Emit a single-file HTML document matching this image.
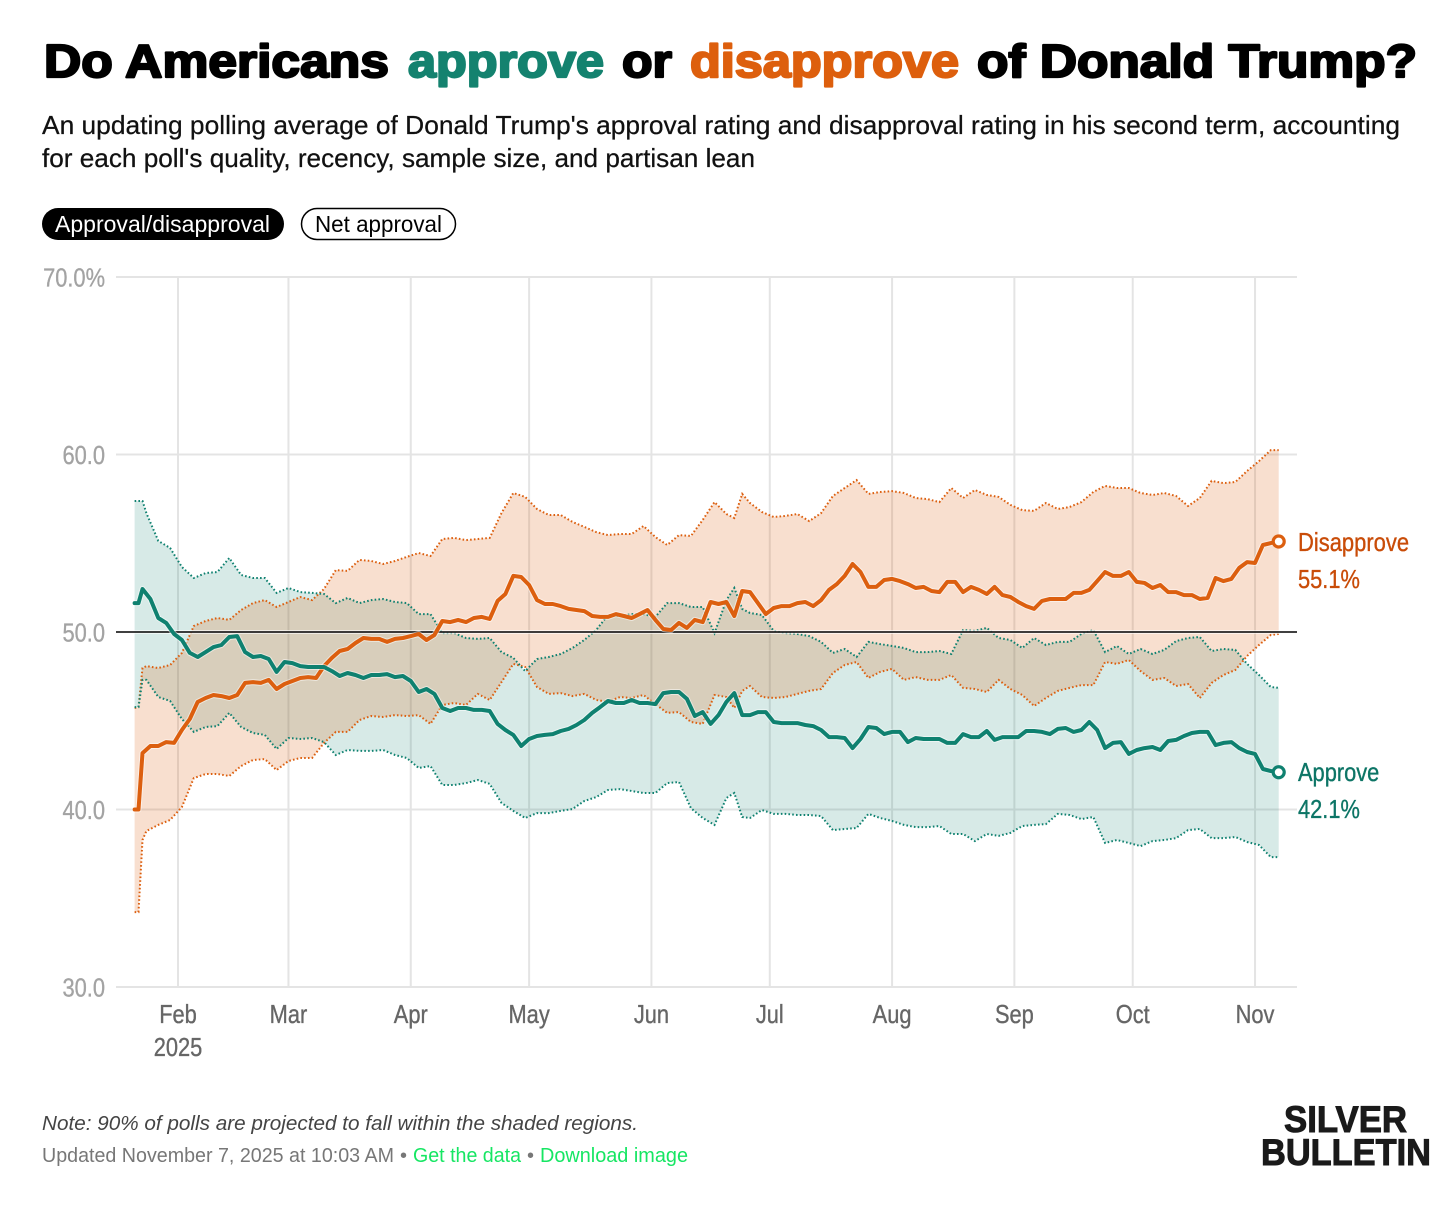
<!DOCTYPE html>
<html lang="en">
<head>
<meta charset="utf-8">
<title>Do Americans approve or disapprove of Donald Trump?</title>
<style>
html,body{margin:0;padding:0;background:#fff;width:1456px;height:1219px;overflow:hidden}
svg{display:block;font-family:"Liberation Sans",sans-serif}
</style>
</head>
<body>
<svg id="chart" width="1456" height="1219" viewBox="0 0 1456 1219" xmlns="http://www.w3.org/2000/svg">
  <rect width="1456" height="1219" fill="#fff"/>

  <g font-weight="700" font-size="46" stroke-width="2.2" stroke-linejoin="round">
    <text x="44" y="77" textLength="345" lengthAdjust="spacingAndGlyphs" fill="#000" stroke="#000">Do Americans</text>
    <text x="408" y="77" textLength="196" lengthAdjust="spacingAndGlyphs" fill="#14826f" stroke="#14826f">approve</text>
    <text x="622" y="77" textLength="50" lengthAdjust="spacingAndGlyphs" fill="#000" stroke="#000">or</text>
    <text x="690" y="77" textLength="269" lengthAdjust="spacingAndGlyphs" fill="#dd5f0d" stroke="#dd5f0d">disapprove</text>
    <text x="977" y="77" textLength="440" lengthAdjust="spacingAndGlyphs" fill="#000" stroke="#000">of Donald Trump?</text>
  </g>

  <g font-size="26" fill="#111" stroke="#111" stroke-width="0.25">
    <text x="42" y="134" textLength="1358" lengthAdjust="spacingAndGlyphs">An updating polling average of Donald Trump's approval rating and disapproval rating in his second term, accounting</text>
    <text x="42" y="167" textLength="713" lengthAdjust="spacingAndGlyphs">for each poll's quality, recency, sample size, and partisan lean</text>
  </g>

  <g>
    <rect x="42" y="208" width="242" height="32" rx="16" fill="#000"/>
    <text x="55" y="232" font-size="23" fill="#fff" textLength="215" lengthAdjust="spacingAndGlyphs">Approval/disapproval</text>
  </g>
  <g>
    <rect x="301.5" y="208.5" width="154" height="31" rx="15.5" fill="#fff" stroke="#000" stroke-width="1.5"/>
    <text x="315" y="232" font-size="23" fill="#000" textLength="127" lengthAdjust="spacingAndGlyphs">Net approval</text>
  </g>

  <g id="grid"></g>
  <g id="marks"></g>
  <g id="axisText" stroke-width="0.35"></g>
  <g id="endLabels" stroke-width="0.35"></g>

  <g font-size="20">
    <text x="42" y="1130" font-style="italic" fill="#444" textLength="596" lengthAdjust="spacingAndGlyphs">Note: 90% of polls are projected to fall within the shaded regions.</text>
    <text x="42" y="1162" fill="#777" textLength="352" lengthAdjust="spacingAndGlyphs">Updated November 7, 2025 at 10:03 AM</text>
    <text x="400" y="1162" fill="#777">•</text>
    <text x="413" y="1162" fill="#16e663" textLength="108" lengthAdjust="spacingAndGlyphs">Get the data</text>
    <text x="527" y="1162" fill="#777">•</text>
    <text x="540" y="1162" fill="#16e663" textLength="148" lengthAdjust="spacingAndGlyphs">Download image</text>
  </g>

  <g font-weight="700" font-size="37" fill="#1a1a1a" stroke="#1a1a1a" stroke-width="1">
    <text x="1284" y="1132" textLength="123" lengthAdjust="spacingAndGlyphs">SILVER</text>
    <text x="1261" y="1165" textLength="170" lengthAdjust="spacingAndGlyphs">BULLETIN</text>
  </g>
</svg>

<script>
const monthTickDays = [11,39,70,100,131,161,192,223,253,284];
const monthTickLabels = ["Feb","Mar","Apr","May","Jun","Jul","Aug","Sep","Oct","Nov"];
const yTickValues = [70,60,50,40,30];
const yTickLabels = ["70.0%","60.0","50.0","40.0","30.0"];
const yearLabel = "2025";

const lineDays = [0,1,2,4,6,8,10,12,14,16,18,20,22,24,26,28,30,32,34,36,38,40,42,44,46,48,50,52,54,56,58,60,62,64,66,68,70,72,74,76,78,80,82,84,86,88,90,92,94,96,98,100,102,104,106,108,110,112,114,116,118,120,122,124,126,128,130,132,134,136,138,140,142,144,146,148,150,152,154,156,158,160,162,164,166,168,170,172,174,176,178,180,182,184,186,188,190,192,194,196,198,200,202,204,206,208,210,212,214,216,218,220,222,224,226,228,230,232,234,236,238,240,242,244,246,248,250,252,254,256,258,260,262,264,266,268,270,272,274,276,278,280,282,284,286,288,290];

const disapproveValues = [40.0,40.0,43.18,43.58,43.58,43.80,43.75,44.48,45.10,46.06,46.28,46.45,46.39,46.28,46.45,47.13,47.18,47.13,47.30,46.79,47.07,47.24,47.41,47.46,47.41,48.08,48.54,48.93,49.04,49.38,49.66,49.61,49.61,49.44,49.61,49.66,49.77,49.89,49.55,49.83,50.62,50.56,50.68,50.56,50.79,50.85,50.73,51.75,52.14,53.16,53.10,52.65,51.80,51.58,51.58,51.46,51.30,51.24,51.18,50.90,50.85,50.85,51.01,50.90,50.79,51.01,51.24,50.68,50.17,50.11,50.51,50.23,50.68,50.56,51.69,51.58,51.69,50.90,52.31,52.25,51.63,51.01,51.35,51.46,51.46,51.63,51.69,51.46,51.80,52.37,52.70,53.16,53.83,53.38,52.54,52.54,52.93,52.99,52.87,52.70,52.48,52.54,52.31,52.25,52.82,52.82,52.25,52.54,52.37,52.14,52.54,52.08,51.97,51.69,51.46,51.30,51.75,51.86,51.86,51.86,52.20,52.20,52.37,52.87,53.38,53.16,53.16,53.38,52.82,52.76,52.48,52.65,52.25,52.25,52.08,52.08,51.86,51.92,53.04,52.87,52.99,53.61,53.94,53.89,54.90,55.01,55.10];

const approveValues = [51.63,51.63,52.42,51.86,50.79,50.51,49.89,49.55,48.82,48.59,48.87,49.15,49.27,49.72,49.77,48.87,48.59,48.65,48.48,47.75,48.31,48.25,48.08,48.03,48.03,48.03,47.80,47.52,47.69,47.58,47.41,47.58,47.58,47.63,47.46,47.52,47.24,46.62,46.79,46.51,45.72,45.55,45.72,45.72,45.61,45.61,45.55,44.82,44.48,44.20,43.58,43.97,44.14,44.20,44.25,44.42,44.54,44.76,45.04,45.44,45.77,46.11,46.00,46.00,46.17,46.00,46.00,45.94,46.56,46.62,46.62,46.23,45.27,45.49,44.82,45.32,46.06,46.56,45.32,45.32,45.49,45.49,44.93,44.87,44.87,44.87,44.76,44.70,44.48,44.08,44.08,44.03,43.46,43.97,44.65,44.59,44.25,44.37,44.37,43.80,44.03,43.97,43.97,43.97,43.75,43.75,44.25,44.08,44.08,44.42,43.92,44.08,44.08,44.08,44.42,44.42,44.37,44.25,44.54,44.59,44.37,44.48,44.93,44.48,43.46,43.75,43.80,43.13,43.35,43.46,43.52,43.35,43.86,43.92,44.14,44.31,44.37,44.37,43.63,43.75,43.80,43.46,43.24,43.13,42.28,42.17,42.10];

const bandDays = [0,1,2,3,6,9,12,15,18,21,24,27,30,33,36,39,42,45,48,51,54,57,60,63,66,69,72,75,78,81,84,87,90,93,96,99,102,105,108,111,114,117,120,123,126,129,132,135,138,141,144,147,150,152,154,156,159,162,165,168,171,174,177,180,183,186,189,192,195,198,201,204,207,210,213,216,219,222,225,228,231,234,237,240,243,246,249,252,255,258,261,264,267,270,273,276,279,282,285,288,290];

const approveHigh = [57.38,57.38,57.38,56.70,55.13,54.73,53.66,53.04,53.32,53.38,54.17,53.21,53.04,53.04,52.20,52.48,52.25,52.20,52.14,51.63,51.92,51.63,51.80,51.86,51.69,51.63,51.01,51.01,49.94,49.94,49.66,49.61,49.66,48.87,48.54,47.80,48.48,48.59,48.76,49.10,49.55,50.11,50.96,50.90,51.01,51.01,50.85,51.63,51.63,51.41,51.41,49.94,51.80,52.48,51.30,51.07,50.96,50.06,49.94,49.89,49.77,49.44,48.82,49.04,48.59,49.44,49.32,49.21,49.10,48.87,48.87,48.93,48.76,50.11,50.06,50.23,49.66,49.55,49.10,49.66,49.27,49.44,49.44,49.89,50.11,48.87,49.21,48.76,49.04,48.76,48.99,49.49,49.66,49.72,48.93,49.04,48.99,48.20,47.58,46.90,46.85];

const approveLow = [45.77,45.77,47.30,47.30,46.34,46.11,45.10,44.37,44.65,44.70,45.44,44.65,44.31,44.20,43.41,44.03,43.97,44.03,43.80,43.07,43.35,43.30,43.30,43.35,43.07,42.90,42.34,42.45,41.38,41.38,41.49,41.66,41.44,40.37,39.92,39.52,39.80,39.80,39.92,40.03,40.48,40.70,41.10,41.15,41.04,40.93,40.93,41.49,41.55,40.08,39.52,39.13,40.65,40.93,39.58,39.52,39.97,39.75,39.75,39.69,39.69,39.63,38.84,38.90,38.96,39.75,39.52,39.35,39.13,39.01,39.01,39.07,38.62,38.62,38.22,38.62,38.51,38.68,39.07,39.13,39.18,39.75,39.69,39.46,39.58,38.11,38.28,38.11,37.94,38.22,38.28,38.39,38.84,38.90,38.39,38.39,38.45,38.17,38.00,37.32,37.32];

const disapproveHigh = [45.72,45.77,47.97,48.08,47.97,48.14,48.82,50.34,50.62,50.79,50.68,51.24,51.63,51.80,51.41,51.69,51.97,51.80,52.42,53.49,53.44,54.06,54.00,53.83,54.00,54.23,54.45,54.28,55.24,55.30,55.18,55.24,55.30,56.70,57.83,57.61,56.93,56.59,56.59,56.20,55.92,55.63,55.46,55.52,55.52,55.97,55.35,54.90,55.46,55.41,56.31,57.32,56.65,56.42,57.78,57.27,56.76,56.48,56.54,56.65,56.25,56.70,57.66,58.11,58.56,57.78,57.89,57.94,57.83,57.55,57.49,57.32,58.11,57.55,58.00,57.72,57.61,57.16,56.87,56.82,57.27,56.93,57.04,57.32,57.89,58.23,58.11,58.11,57.83,57.72,57.83,57.66,57.10,57.55,58.51,58.39,58.45,59.07,59.63,60.25,60.25];

const disapproveLow = [34.22,34.22,38.28,38.79,39.13,39.41,40.14,41.77,42.00,42.00,41.89,42.45,42.79,42.84,42.22,42.73,42.90,42.90,43.75,44.37,44.37,45.04,45.27,45.21,45.32,45.27,45.32,44.82,45.89,46.00,45.89,46.51,46.17,47.18,48.20,48.03,46.90,46.51,46.56,46.39,46.51,46.17,46.06,46.34,46.28,46.45,45.94,45.44,45.49,44.93,44.82,46.45,46.34,45.72,46.68,46.96,46.34,46.28,46.34,46.51,46.68,46.79,47.69,48.14,48.31,47.41,47.75,47.92,47.30,47.46,47.30,47.30,47.58,46.85,46.79,46.62,47.30,46.79,46.45,45.83,46.28,46.68,46.85,47.01,47.01,48.31,48.20,48.42,47.80,47.30,47.41,46.96,47.07,46.28,47.13,47.58,47.86,48.65,49.27,49.83,49.89];

const SVGNS = "http://www.w3.org/2000/svg";
const COLOR_TEAL = "#0f8170";
const COLOR_ORANGE = "#dc5f0f";

function xScale(day){ return 134.6 + day * (1278.7 - 134.6) / 290; }
function yScale(v){ return 632 - (v - 50) * 17.75; }

function make(tag, attrs, parent){
  const el = document.createElementNS(SVGNS, tag);
  for (const k in attrs) el.setAttribute(k, attrs[k]);
  parent.appendChild(el);
  return el;
}
function linePath(days, vals){
  return days.map(function(d,i){
    return (i ? "L" : "M") + xScale(d).toFixed(1) + " " + yScale(vals[i]).toFixed(1);
  }).join("");
}
function areaPath(days, hi, lo){
  let p = linePath(days, hi);
  for (let i = days.length - 1; i >= 0; i--) {
    p += "L" + xScale(days[i]).toFixed(1) + " " + yScale(lo[i]).toFixed(1);
  }
  return p + "Z";
}
function condensed(parent, str, x, y, anchor, fill, size, sx){
  const t = make("text", {transform:"translate("+x+" "+y+") scale("+sx+" 1)", "text-anchor":anchor, fill:fill, stroke:fill, "font-size":size}, parent);
  t.textContent = str;
  return t;
}

const grid = document.getElementById("grid");
const marks = document.getElementById("marks");
const axisText = document.getElementById("axisText");
const endLabels = document.getElementById("endLabels");

yTickValues.forEach(function(v,i){
  if (v !== 50) {
    const g = make("line", {x1:116, x2:1297, y1:yScale(v), y2:yScale(v), stroke:"#e4e4e4", "stroke-width":2}, grid);
    
    
  }
  const t = condensed(axisText, yTickLabels[i], 105, yScale(v) + 9.5, "end", "#a3a3a3", 26, 0.84);
  
  
});

monthTickDays.forEach(function(d,i){
  const g = make("line", {x1:xScale(d), x2:xScale(d), y1:yScale(70), y2:yScale(30), stroke:"#e4e4e4", "stroke-width":2}, grid);
  
  
  const t = condensed(axisText, monthTickLabels[i], xScale(d), 1023, "middle", "#666", 26, 0.84);
  
  
});

const yearText = condensed(axisText, yearLabel, xScale(monthTickDays[0]), 1056, "middle", "#666", 26, 0.84);



const approveBand = make("path", {d:areaPath(bandDays, approveHigh, approveLow), fill:COLOR_TEAL, "fill-opacity":0.17}, marks);



const disapproveBand = make("path", {d:areaPath(bandDays, disapproveHigh, disapproveLow), fill:COLOR_ORANGE, "fill-opacity":0.2}, marks);



const dotStyle = {fill:"none", "stroke-width":2, "stroke-dasharray":"1.6 2.2"};

const disapproveHighLine = make("path", Object.assign({d:linePath(bandDays, disapproveHigh), stroke:COLOR_ORANGE}, dotStyle), marks);



const disapproveLowLine = make("path", Object.assign({d:linePath(bandDays, disapproveLow), stroke:COLOR_ORANGE}, dotStyle), marks);



const approveHighLine = make("path", Object.assign({d:linePath(bandDays, approveHigh), stroke:COLOR_TEAL}, dotStyle), marks);



const approveLowLine = make("path", Object.assign({d:linePath(bandDays, approveLow), stroke:COLOR_TEAL}, dotStyle), marks);



const refHalo = make("line", {x1:116, x2:1297, y1:yScale(50), y2:yScale(50), stroke:"#fff", "stroke-opacity":0.6, "stroke-width":4}, marks);



const refLine = make("line", {x1:116, x2:1297, y1:yScale(50), y2:yScale(50), stroke:"#000", "stroke-width":1.5}, marks);



const lineStyle = {fill:"none", "stroke-linejoin":"round", "stroke-linecap":"round"};

const disapproveHalo = make("path", Object.assign({d:linePath(lineDays, disapproveValues), stroke:"#fff", "stroke-opacity":0.5, "stroke-width":6}, lineStyle), marks);



const disapproveLine = make("path", Object.assign({d:linePath(lineDays, disapproveValues), stroke:COLOR_ORANGE, "stroke-width":4}, lineStyle), marks);



const approveHalo = make("path", Object.assign({d:linePath(lineDays, approveValues), stroke:"#fff", "stroke-opacity":0.5, "stroke-width":6}, lineStyle), marks);



const approveLine = make("path", Object.assign({d:linePath(lineDays, approveValues), stroke:COLOR_TEAL, "stroke-width":4}, lineStyle), marks);



const lastDay = lineDays[lineDays.length - 1];
const lastDisapprove = disapproveValues[disapproveValues.length - 1];
const lastApprove = approveValues[approveValues.length - 1];

const disapproveMarker = make("circle", {cx:xScale(lastDay), cy:yScale(lastDisapprove), r:5.5, fill:"#fff", stroke:COLOR_ORANGE, "stroke-width":3.2}, marks);



const approveMarker = make("circle", {cx:xScale(lastDay), cy:yScale(lastApprove), r:5.5, fill:"#fff", stroke:COLOR_TEAL, "stroke-width":3.2}, marks);



const dName = condensed(endLabels, "Disapprove", 1298, 551, "start", "#c94c08", 26, 0.845);



const dVal = condensed(endLabels, lastDisapprove.toFixed(1) + "%", 1298, 588, "start", "#c94c08", 26, 0.84);



const aName = condensed(endLabels, "Approve", 1298, 781, "start", "#0d7566", 26, 0.84);



const aVal = condensed(endLabels, lastApprove.toFixed(1) + "%", 1298, 818, "start", "#0d7566", 26, 0.84);


</script>
</body>
</html>
